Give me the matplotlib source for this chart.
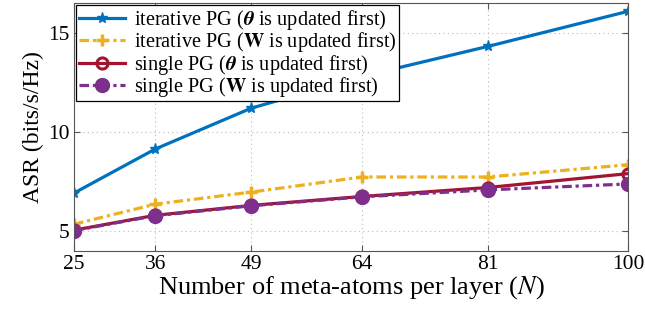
import matplotlib.pyplot as plt

plt.rcParams['font.family'] = ['Liberation Serif', 'DejaVu Serif']
plt.rcParams['mathtext.fontset'] = 'stix'

N = [25, 36, 49, 64, 81, 100]
iter_theta = [6.92, 9.14, 11.2, 12.8, 14.31, 16.08]
iter_W = [5.35, 6.36, 6.97, 7.73, 7.73, 8.35]
single_theta = [5.05, 5.8, 6.3, 6.75, 7.2, 7.9]
single_W = [5.03, 5.78, 6.28, 6.73, 7.08, 7.38]

labels = [r'iterative PG ($\mathbfit{\theta}$ is updated first)',
          r'iterative PG ($\mathbf{W}$ is updated first)',
          r'single PG ($\mathbfit{\theta}$ is updated first)',
          r'single PG ($\mathbf{W}$ is updated first)']

fig = plt.figure(figsize=(6.45, 3.2), dpi=100)
ax = fig.add_axes([0.1147, 0.2156, 0.859, 0.775])

ax.plot(N, iter_theta, color='#0072BD', lw=2.3, marker='*', ms=8, label=labels[0])
ax.plot(N, iter_W, color='#EDB120', lw=2.3, ls=(0, (3, 1.2, 1, 1.2)), marker='+', ms=8, mew=2.5, label=labels[1])
ax.plot(N, single_theta, color='#A2142F', lw=2.3, marker='o', ms=8, mfc='none', mew=2.2, label=labels[2])
ax.plot(N, single_W, color='#7E2F8E', lw=2.3, ls=(0, (3, 1.2, 1, 1.2)), marker='o', ms=10, label=labels[3])

ax.set_xlim(25, 100)
ax.set_ylim(4, 16.5)
ax.set_xticks(N)
ax.set_yticks([5, 10, 15])
ax.tick_params(direction='in', top=True, right=True, labelsize=15.5, color='#555555', length=4, pad=3)
ax.grid(True, ls=(0, (1, 3)), color='#bbbbbb', lw=0.8)
for s in ax.spines.values():
    s.set_color('#555555')

ax.set_xlabel(r'Number of meta-atoms per layer ($N$)', fontsize=19, labelpad=0)
ax.set_ylabel('ASR (bits/s/Hz)', fontsize=17, labelpad=3)

leg = ax.legend(loc='upper left', fontsize=14.6, frameon=True, fancybox=False, framealpha=1,
                edgecolor='black', borderpad=0.12, labelspacing=-0.08, handlelength=2.3,
                handletextpad=0.4, borderaxespad=0.12)
leg.get_frame().set_linewidth(0.9)

fig.savefig('out.png', dpi=100)
